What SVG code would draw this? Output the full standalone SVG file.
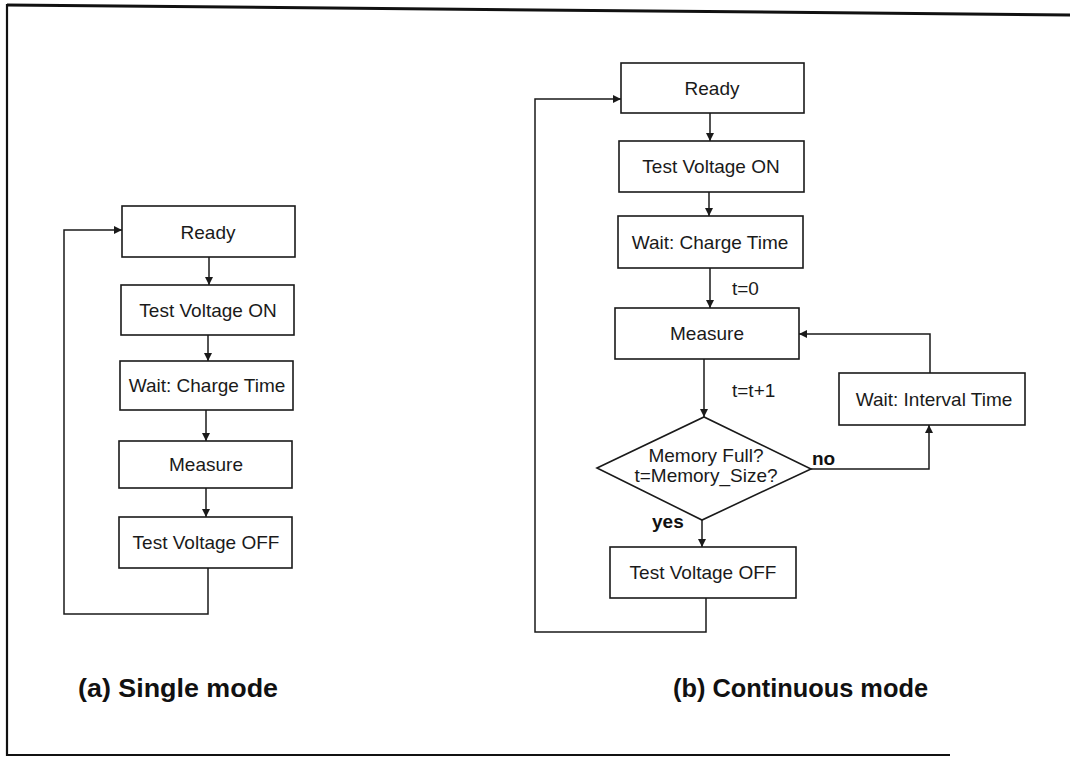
<svg xmlns="http://www.w3.org/2000/svg" width="1070" height="761" viewBox="0 0 1070 761">
<style>
.box{fill:#fff;stroke:#1a1a1a;stroke-width:1.6}
.lbl{font-family:"Liberation Sans",Arial,sans-serif;font-size:19px;fill:#1a1a1a;text-anchor:middle}
.sm{font-family:"Liberation Sans",Arial,sans-serif;font-size:19px;fill:#1a1a1a}
.bold{font-family:"Liberation Sans",Arial,sans-serif;font-weight:bold;font-size:19px;fill:#111}
.cap{font-family:"Liberation Sans",Arial,sans-serif;font-weight:bold;font-size:25px;fill:#111}
.ln{fill:none;stroke:#1a1a1a;stroke-width:1.5}
.frame{fill:none;stroke:#111}
</style>
<defs>
<marker id="ah" viewBox="0 0 10 10" refX="10" refY="5" markerWidth="8" markerHeight="8" markerUnits="userSpaceOnUse" orient="auto">
<path d="M0,0 L10,5 L0,10 z" fill="#1a1a1a"/>
</marker>
</defs>
<rect width="1070" height="761" fill="#fff"/>
<g id="frame">
<line class="frame" x1="7" y1="5" x2="1070" y2="15" stroke-width="3"/>
<line class="frame" x1="7" y1="4" x2="7" y2="756" stroke-width="2.2"/>
<line class="frame" x1="6" y1="755" x2="950" y2="755" stroke-width="2.2"/>
</g>
<g id="connectors">
<line class="ln" x1="209" y1="257" x2="209" y2="285" marker-end="url(#ah)"/>
<line class="ln" x1="208" y1="335" x2="208" y2="361" marker-end="url(#ah)"/>
<line class="ln" x1="206" y1="410" x2="206" y2="441" marker-end="url(#ah)"/>
<line class="ln" x1="206" y1="488" x2="206" y2="517" marker-end="url(#ah)"/>
<polyline class="ln" points="208,568 208,614 64,614 64,230 122,230" marker-end="url(#ah)"/>
<line class="ln" x1="710" y1="113" x2="710" y2="141" marker-end="url(#ah)"/>
<line class="ln" x1="709" y1="192" x2="709" y2="216" marker-end="url(#ah)"/>
<line class="ln" x1="710" y1="268" x2="710" y2="308" marker-end="url(#ah)"/>
<line class="ln" x1="704" y1="359" x2="704" y2="417" marker-end="url(#ah)"/>
<line class="ln" x1="702" y1="520" x2="702" y2="547" marker-end="url(#ah)"/>
<polyline class="ln" points="811,469 929,469 929,425" marker-end="url(#ah)"/>
<polyline class="ln" points="930,373 930,334 799,334" marker-end="url(#ah)"/>
<polyline class="ln" points="706,598 706,632 535,632 535,99 621,99" marker-end="url(#ah)"/>
<text class="sm" x="732" y="295">t=0</text>
<text class="sm" x="732" y="397">t=t+1</text>
<text class="bold" x="652" y="528">yes</text>
<text class="bold" x="812" y="465">no</text>
</g>
<g id="a-ready"><rect class="box" x="122" y="206" width="173" height="51"/><text class="lbl" x="208" y="239">Ready</text></g>
<g id="a-tvon"><rect class="box" x="121" y="285" width="173" height="50"/><text class="lbl" x="208" y="317">Test Voltage ON</text></g>
<g id="a-wait"><rect class="box" x="120" y="361" width="173" height="49"/><text class="lbl" x="207" y="392">Wait: Charge Time</text></g>
<g id="a-measure"><rect class="box" x="119" y="441" width="173" height="47"/><text class="lbl" x="206" y="471">Measure</text></g>
<g id="a-tvoff"><rect class="box" x="119" y="517" width="173" height="51"/><text class="lbl" x="206" y="549">Test Voltage OFF</text></g>
<g id="b-ready"><rect class="box" x="621" y="63" width="183" height="50"/><text class="lbl" x="712" y="95">Ready</text></g>
<g id="b-tvon"><rect class="box" x="619" y="141" width="185" height="51"/><text class="lbl" x="711" y="173">Test Voltage ON</text></g>
<g id="b-wait"><rect class="box" x="618" y="216" width="185" height="52"/><text class="lbl" x="710" y="249">Wait: Charge Time</text></g>
<g id="b-measure"><rect class="box" x="615" y="308" width="184" height="51"/><text class="lbl" x="707" y="340">Measure</text></g>
<g id="b-decision"><polygon class="box" points="597,468 704,417 811,469 702,520"/><text class="lbl" x="706" y="462">Memory Full?</text><text class="lbl" x="706" y="482">t=Memory_Size?</text></g>
<g id="b-interval"><rect class="box" x="839" y="373" width="186" height="52"/><text class="lbl" x="934" y="406">Wait: Interval Time</text></g>
<g id="b-tvoff"><rect class="box" x="610" y="547" width="186" height="51"/><text class="lbl" x="703" y="579">Test Voltage OFF</text></g>
<g id="captions">
<text class="cap" x="78" y="697" textLength="200" lengthAdjust="spacingAndGlyphs">(a) Single mode</text>
<text class="cap" x="673" y="697" textLength="255" lengthAdjust="spacingAndGlyphs">(b) Continuous mode</text>
</g>
</svg>
